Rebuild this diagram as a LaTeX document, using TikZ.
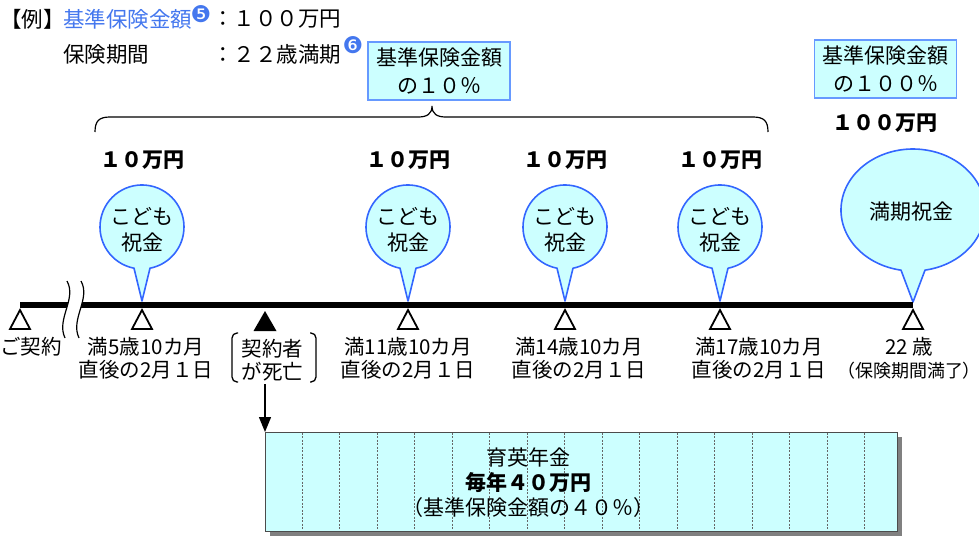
\documentclass[tikz,border=0pt]{standalone}
\usepackage{fontspec}
\setmainfont{Noto Sans CJK JP}
\newfontfamily\dejavu{DejaVu Sans}
\usetikzlibrary{arrows.meta}
\definecolor{cyanfill}{RGB}{204,255,255}
\definecolor{bubbleblue}{RGB}{51,102,255}
\definecolor{boxblue}{RGB}{102,153,255}
\definecolor{headblue}{RGB}{68,119,238}
\newcommand\fsz[2]{\fontsize{#1}{#2}\selectfont}
\tikzset{
  txt/.style={inner sep=0pt, font=\fsz{21}{26}, align=center},
  lbl/.style={inner sep=0pt, font=\fsz{20.5}{23}, align=center},
  amount/.style={inner sep=0pt, font=\fsz{21}{26}\bfseries},
  head/.style={anchor=west, inner sep=0pt, font=\fsz{21.5}{26}},
  notemark/.style={inner sep=0pt, font=\dejavu\fsz{23}{26}, text=headblue},
  infobox/.style={draw=boxblue, fill=cyanfill, line width=1.5pt, minimum width=142pt, minimum height=58pt, inner sep=0pt, align=center, font=\fsz{21}{28}},
  bubble/.style={draw=bubbleblue, fill=cyanfill, line width=1.6pt, line join=round},
  tick/.style={draw=black, line width=1.8pt, fill=white, line join=miter},
  timeline/.style={line width=6pt},
  annline/.style={draw=black!60, line width=0.6pt, dash pattern=on 2pt off 1.5pt},
  bracketline/.style={line width=1.3pt, rounded corners=5pt},
}
\begin{document}
\begin{tikzpicture}[x=1pt,y=-1pt]
\useasboundingbox (0,0) rectangle (979,547);
\clip (0,0) rectangle (979,547);

% header
\node[head] (ex) at (0,19) {【例】};
\node[head, text=headblue] (h1) at (63,19) {基準保険金額};
\node[notemark] (n5) at (201,14) {❺};
\node[head] (v1) at (212,19) {：１００万円};
\node[head] (h2) at (63,54) {保険期間};
\node[head] (v2) at (212,54) {：２２歳満期};
\node[notemark] (n6) at (353,45) {❻};

% info boxes
\node[infobox] (box10) at (439,71) {基準保険金額\\の１０％};
\node[infobox] (box100) at (885.5,69) {基準保険金額\\の１００％};
\node[amount] (amt100) at (885,123) {１００万円};

% brace
\draw[line width=1.2pt] (95,132) .. controls (95,121) and (99,117) .. (110,117) -- (418,117) .. controls (427,117) and (432,114) .. (432,106) .. controls (432,114) and (437,117) .. (446,117) -- (753,117) .. controls (764,117) and (768,121) .. (768,132);

% children bubbles
\foreach \cx/\nm in {142/b1, 408/b2, 565/b3, 720/b4} {
  \draw[bubble] (\cx-8, 268.2) arc[start angle=259.02, end angle=-79.02, radius=42pt] -- (\cx, 301) -- cycle;
  \node[txt] (\nm) at (\cx, 230) {こども\\祝金};
  \node[amount] (amt-\nm) at (\cx, 160) {１０万円};
}
% maturity bubble
\draw[bubble] (901, 270.15) arc[start angle=260.41, end angle=-80.41, x radius=72pt, y radius=61pt] -- (913, 302) -- cycle;
\node[txt] (fin) at (911, 212) {満期祝金};

% timeline
\coordinate (t0) at (20,305);
\coordinate (t6) at (913,305);
\draw[timeline] (t0) -- (t6);
\fill[white] (67,281) .. controls (77,299) and (56,319) .. (65,338) -- (79,338) .. controls (70,319) and (91,299) .. (81,281) -- cycle;
\draw[line width=1.2pt] (67,281) .. controls (77,299) and (56,319) .. (65,338);
\draw[line width=1.2pt] (81,281) .. controls (91,299) and (70,319) .. (79,338);

\foreach \x in {20,142,408,565,720,913} \draw[tick] (\x,310) -- (\x-10,329) -- (\x+10,329) -- cycle;
\fill (265,311) -- (253.5,331) -- (276.5,331) -- cycle;

% labels
\node[lbl] (l0) at (31,347) {ご契約};
\node[lbl] (l1) at (146,358.5) {満5歳10カ月\\直後の2月１日};
\node[lbl] (l2) at (408,358.5) {満11歳10カ月\\直後の2月１日};
\node[lbl] (l3) at (579,358.5) {満14歳10カ月\\直後の2月１日};
\node[lbl] (l4) at (759,358.5) {満17歳10カ月\\直後の2月１日};
\node[lbl] (l5) at (909,358.5) {22 歳\\{\fsz{18}{23}\addfontfeatures{RawFeature=+palt}（保険期間満了）}};

\node[lbl] (death) at (272.5,360) {契約者\\が死亡};
\draw[bracketline] (238,333) -- (232,333) -- (232,382) -- (238,382);
\draw[bracketline] (310,333) -- (316,333) -- (316,382) -- (310,382);

% annuity box
\fill[black!50] (270,437) rectangle (902,536);
\node[draw=black!70, fill=cyanfill, line width=1pt, minimum width=632pt, minimum height=99pt, inner sep=0pt, anchor=north west] (box) at (265,432) {};
\foreach \i in {0,...,15} \draw[annline] (302+37.5*\i, 432.5) -- (302+37.5*\i, 530.5);
\node[inner sep=0pt, align=center, font=\fsz{21}{25}] (anntext) at (528,483) {育英年金\\{\bfseries 毎年４０万円}\\（基準保険金額の４０％）};

\draw[-{Triangle[length=15pt, width=12pt]}, line width=1.3pt, shorten <=3pt] (box.north west |- death.south) -- (box.north west);
\end{tikzpicture}
\end{document}
